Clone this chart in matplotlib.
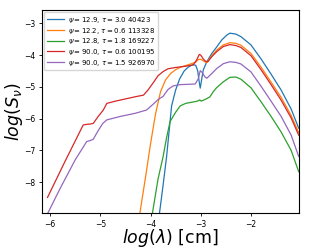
import numpy as np
import matplotlib
matplotlib.use("Agg")
import matplotlib.pyplot as plt

# log(lambda) / log(S_nu)
labels = [r'$\psi = 12.9$, $\tau = 3.0$ 40423',
          r'$\psi = 12.2$, $\tau = 0.6$ 113328',
          r'$\psi = 12.8$, $\tau = 1.8$ 169227',
          r'$\psi = 90.0$, $\tau = 0.6$ 100195',
          r'$\psi = 90.0$, $\tau = 1.5$ 926970']

blue_x = [-3.82, -3.75, -3.68, -3.58, -3.5, -3.42, -3.33, -3.25, -3.16, -3.1, -3.06, -3.03, -3.01,
          -2.98, -2.95, -2.88, -2.78, -2.68, -2.58, -2.48, -2.42, -2.3, -2.2, -2.0, -1.8, -1.6,
          -1.4, -1.2, -1.05]
blue_y = [-8.96, -8.1, -7.2, -5.6, -5.1, -4.75, -4.5, -4.38, -4.3, -4.32, -4.5, -4.85, -5.04,
          -4.75, -4.47, -4.21, -3.95, -3.74, -3.52, -3.37, -3.31, -3.34, -3.42, -3.68, -4.12, -4.6,
          -5.1, -5.7, -6.30]

orange_x = [-4.21, -4.1, -4.0, -3.9, -3.8, -3.7, -3.6, -3.5, -3.4, -3.3, -3.2, -3.1, -3.05, -3.0,
            -2.95, -2.88, -2.78, -2.68, -2.55, -2.42, -2.3, -2.2, -2.0, -1.8, -1.6, -1.4, -1.2, -1.05]
orange_y = [-8.96, -7.85, -6.8, -5.85, -5.15, -4.78, -4.58, -4.46, -4.38, -4.33, -4.28, -4.22, -4.14,
            -4.13, -4.18, -4.24, -4.02, -3.84, -3.68, -3.61, -3.63, -3.69, -3.95, -4.38, -4.85,
            -5.33, -5.9, -6.44]

green_x = [-3.96, -3.85, -3.75, -3.68, -3.61, -3.5, -3.41, -3.3, -3.2, -3.1, -3.05, -3.02, -2.99,
           -2.92, -2.82, -2.75, -2.68, -2.55, -2.42, -2.3, -2.2, -2.0, -1.8, -1.6, -1.4, -1.2, -1.05]
green_y = [-8.96, -7.9, -7.2, -6.6, -6.09, -5.8, -5.6, -5.52, -5.49, -5.46, -5.44, -5.41, -5.45,
           -5.40, -5.32, -5.15, -5.02, -4.84, -4.70, -4.69, -4.76, -5.03, -5.47, -5.93, -6.42,
           -7.0, -7.67]

red_x = [-6.05, -5.7, -5.34, -5.27, -5.2, -5.14, -5.05, -4.94, -4.87, -4.7, -4.5, -4.3, -4.14,
         -4.05, -3.95, -3.85, -3.75, -3.65, -3.5, -3.3, -3.15, -3.08, -3.03, -3.0, -2.95, -2.9,
         -2.86, -2.78, -2.68, -2.55, -2.42, -2.3, -2.2, -2.0, -1.8, -1.6, -1.4, -1.2, -1.05]
red_y = [-8.48, -7.34, -6.20, -6.18, -6.17, -6.15, -5.95, -5.73, -5.52, -5.45, -5.38, -5.31, -5.26,
         -5.1, -4.88, -4.65, -4.52, -4.43, -4.39, -4.35, -4.31, -4.15, -3.98, -4.0, -4.12, -4.2,
         -4.21, -4.05, -3.89, -3.73, -3.67, -3.70, -3.76, -4.02, -4.46, -4.93, -5.42, -5.98, -6.52]

purple_x = [-6.04, -5.8, -5.5, -5.27, -5.2, -5.14, -5.05, -4.95, -4.87, -4.6, -4.3, -4.08, -3.95,
            -3.85, -3.75, -3.65, -3.55, -3.41, -3.25, -3.11, -3.05, -3.01, -2.97, -2.92, -2.88,
            -2.78, -2.68, -2.55, -2.42, -2.3, -2.2, -2.0, -1.8, -1.6, -1.4, -1.2, -1.05]
purple_y = [-8.96, -8.2, -7.3, -6.72, -6.69, -6.65, -6.4, -6.15, -6.04, -5.93, -5.83, -5.73, -5.55,
            -5.4, -5.3, -5.08, -4.97, -4.93, -4.92, -4.91, -4.75, -4.49, -4.55, -4.68, -4.73,
            -4.58, -4.42, -4.27, -4.21, -4.23, -4.28, -4.53, -4.98, -5.45, -5.93, -6.52, -7.19]

series = [(blue_x, blue_y), (orange_x, orange_y), (green_x, green_y), (red_x, red_y), (purple_x, purple_y)]

fig = plt.figure(figsize=(3.32, 2.49), dpi=100)
ax = fig.add_axes([0.1265, 0.1458, 0.7732, 0.8142])
for (xs, ys), lab in zip(series, labels):
    ax.plot(xs, ys, lw=0.9, label=lab)

ax.set_xlim(-6.16, -1.05)
ax.set_ylim(-8.96, -2.58)
ax.set_xticks([-6, -5, -4, -3, -2])
ax.set_yticks([-8, -7, -6, -5, -4, -3])
ax.tick_params(labelsize=5.5, length=2.5, width=0.6, pad=2.5)
for s in ax.spines.values():
    s.set_linewidth(0.8)
ax.set_xlabel(r'$log(\lambda)$ [cm]', fontsize=12.5, labelpad=-1)
ax.set_ylabel(r'$log(S_\nu)$', fontsize=12.5, labelpad=-1)
ax.legend(loc='upper left', fontsize=5, handlelength=2.4, labelspacing=0.1,
          borderpad=0.4, borderaxespad=0.3, handletextpad=0.6)

fig.savefig('out.png', dpi=100)
